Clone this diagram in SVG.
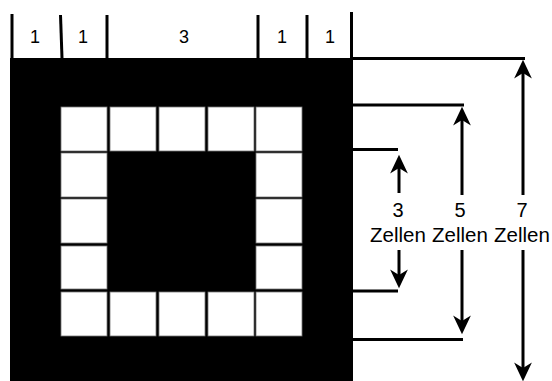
<svg xmlns="http://www.w3.org/2000/svg" width="552" height="381" viewBox="0 0 552 381">
<style>
.ln{stroke:#000;stroke-width:3;fill:none}
.cell{fill:#fff;stroke:#777;stroke-width:0.8}
.t{font-family:"Liberation Sans",Arial,sans-serif;fill:#000;text-anchor:middle}
</style>
<defs>
<marker id="ah" markerUnits="userSpaceOnUse" markerWidth="20" markerHeight="20" refX="5" refY="0" viewBox="0 -9 18 18" orient="auto" overflow="visible">
<path d="M0,-8 L17,0 L0,8 L5,0 Z" fill="#000"/>
</marker>
</defs>
<rect width="552" height="381" fill="#fff"/>
<g id="grid">
<rect x="10" y="58" width="343" height="323" fill="#000"/>
<rect class="cell" x="61" y="107" width="46" height="44"/>
<rect class="cell" x="110" y="107" width="46" height="44"/>
<rect class="cell" x="159" y="107" width="46" height="44"/>
<rect class="cell" x="208" y="107" width="46" height="44"/>
<rect class="cell" x="256" y="107" width="46" height="44"/>
<rect class="cell" x="61" y="153" width="46" height="44"/>
<rect class="cell" x="256" y="153" width="46" height="44"/>
<rect class="cell" x="61" y="199" width="46" height="44"/>
<rect class="cell" x="256" y="199" width="46" height="44"/>
<rect class="cell" x="61" y="246" width="46" height="43"/>
<rect class="cell" x="256" y="246" width="46" height="43"/>
<rect class="cell" x="61" y="292" width="46" height="44"/>
<rect class="cell" x="110" y="292" width="46" height="44"/>
<rect class="cell" x="159" y="292" width="46" height="44"/>
<rect class="cell" x="208" y="292" width="46" height="44"/>
<rect class="cell" x="256" y="292" width="46" height="44"/>
</g>
<g id="top-scale">
<line class="ln" x1="12" y1="14" x2="12" y2="58"/>
<line class="ln" x1="60.5" y1="15" x2="62" y2="58"/>
<line class="ln" x1="107" y1="15" x2="107" y2="58"/>
<line class="ln" x1="258" y1="15" x2="258" y2="58"/>
<line class="ln" x1="307" y1="15" x2="307" y2="58"/>
<line class="ln" x1="351.5" y1="12" x2="351.5" y2="58"/>
<text class="t" x="35" y="43" font-size="18">1</text>
<text class="t" x="83" y="43" font-size="18">1</text>
<text class="t" x="184" y="43" font-size="18">3</text>
<text class="t" x="282" y="43" font-size="18">1</text>
<text class="t" x="330" y="43" font-size="18">1</text>
</g>
<g id="connectors">
<line class="ln" x1="353" y1="58.5" x2="525" y2="58.5"/>
<line class="ln" x1="353" y1="105" x2="464" y2="105"/>
<line class="ln" x1="353" y1="149.5" x2="398" y2="149.5"/>
<line class="ln" x1="353" y1="291" x2="398" y2="291"/>
<line class="ln" x1="353" y1="339.5" x2="463" y2="339.5"/>
<line class="ln" x1="523" y1="195" x2="523" y2="73" marker-end="url(#ah)"/>
<line class="ln" x1="523" y1="250" x2="523" y2="368" marker-end="url(#ah)"/>
<line class="ln" x1="462" y1="195" x2="462" y2="120" marker-end="url(#ah)"/>
<line class="ln" x1="462" y1="250" x2="462" y2="321" marker-end="url(#ah)"/>
<line class="ln" x1="399" y1="193" x2="399" y2="168" marker-end="url(#ah)"/>
<line class="ln" x1="399" y1="250" x2="399" y2="275" marker-end="url(#ah)"/>
</g>
<g id="labels">
<text class="t" x="398" y="217" font-size="20">3</text>
<text class="t" x="398" y="242" font-size="20.5">Zellen</text>
<text class="t" x="460" y="217" font-size="20">5</text>
<text class="t" x="460" y="242" font-size="20.5">Zellen</text>
<text class="t" x="522" y="217" font-size="20">7</text>
<text class="t" x="522" y="242" font-size="20.5">Zellen</text>
</g>
</svg>
